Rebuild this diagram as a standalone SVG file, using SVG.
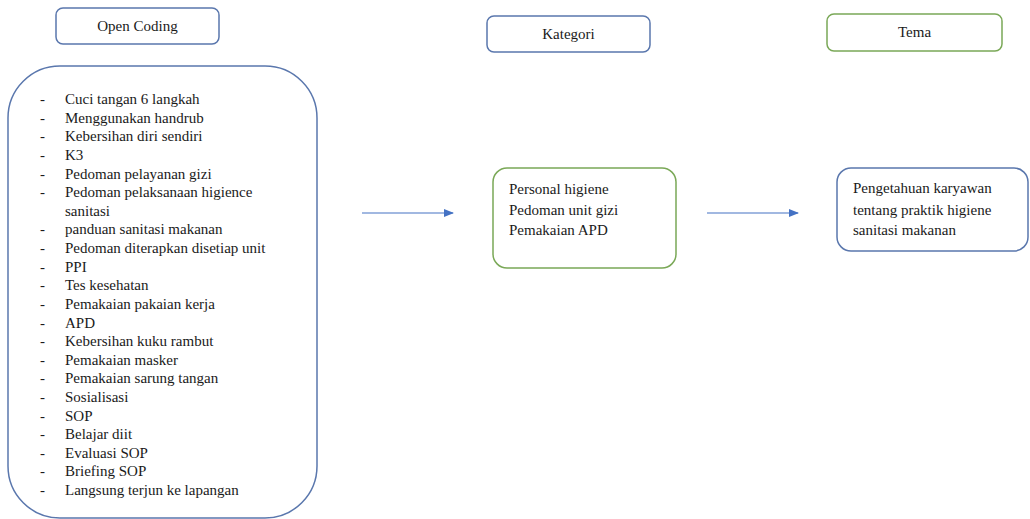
<svg xmlns="http://www.w3.org/2000/svg" width="1030" height="519" viewBox="0 0 1030 519">
<defs>
<marker id="ah" markerWidth="10" markerHeight="8" refX="9" refY="4" orient="auto" markerUnits="userSpaceOnUse">
<path d="M0,0 L10,4 L0,8 Z" fill="#4472c4"/>
</marker>
</defs>
<style>
.b{fill:#fff;stroke:#5a77ad;stroke-width:1.5}
.g{fill:#fff;stroke:#7aa857;stroke-width:1.5}
.c{stroke:#4472c4;stroke-width:1.2;fill:none}
</style>
<rect width="1030" height="519" fill="#fff"/>
<g id="open-coding-header">
<rect class="b" x="56" y="8" width="163" height="36" rx="7"/>
<text style="font-family:'Liberation Serif';font-size:15px" fill="#1a1a1a" x="137.5" y="31" text-anchor="middle">Open Coding</text>
</g>
<g id="open-coding-list" fill="#1a1a1a">
<rect class="b" x="8" y="66" width="309" height="452" rx="52"/>
<text style="font-family:'Liberation Serif';font-size:15px" x="40" y="104">-</text><text style="font-family:'Liberation Serif';font-size:15px" x="65" y="104">Cuci tangan 6 langkah</text>
<text style="font-family:'Liberation Serif';font-size:15px" x="40" y="123">-</text><text style="font-family:'Liberation Serif';font-size:15px" x="65" y="123">Menggunakan handrub</text>
<text style="font-family:'Liberation Serif';font-size:15px" x="40" y="141">-</text><text style="font-family:'Liberation Serif';font-size:15px" x="65" y="141">Kebersihan diri sendiri</text>
<text style="font-family:'Liberation Serif';font-size:15px" x="40" y="160">-</text><text style="font-family:'Liberation Serif';font-size:15px" x="65" y="160">K3</text>
<text style="font-family:'Liberation Serif';font-size:15px" x="40" y="179">-</text><text style="font-family:'Liberation Serif';font-size:15px" x="65" y="179">Pedoman pelayanan gizi</text>
<text style="font-family:'Liberation Serif';font-size:15px" x="40" y="197">-</text><text style="font-family:'Liberation Serif';font-size:15px" x="65" y="197">Pedoman pelaksanaan higience</text>
<text style="font-family:'Liberation Serif';font-size:15px" x="65" y="216">sanitasi</text>
<text style="font-family:'Liberation Serif';font-size:15px" x="40" y="234">-</text><text style="font-family:'Liberation Serif';font-size:15px" x="65" y="234">panduan sanitasi makanan</text>
<text style="font-family:'Liberation Serif';font-size:15px" x="40" y="253">-</text><text style="font-family:'Liberation Serif';font-size:15px" x="65" y="253">Pedoman diterapkan disetiap unit</text>
<text style="font-family:'Liberation Serif';font-size:15px" x="40" y="272">-</text><text style="font-family:'Liberation Serif';font-size:15px" x="65" y="272">PPI</text>
<text style="font-family:'Liberation Serif';font-size:15px" x="40" y="290">-</text><text style="font-family:'Liberation Serif';font-size:15px" x="65" y="290">Tes kesehatan</text>
<text style="font-family:'Liberation Serif';font-size:15px" x="40" y="309">-</text><text style="font-family:'Liberation Serif';font-size:15px" x="65" y="309">Pemakaian pakaian kerja</text>
<text style="font-family:'Liberation Serif';font-size:15px" x="40" y="328">-</text><text style="font-family:'Liberation Serif';font-size:15px" x="65" y="328">APD</text>
<text style="font-family:'Liberation Serif';font-size:15px" x="40" y="346">-</text><text style="font-family:'Liberation Serif';font-size:15px" x="65" y="346">Kebersihan kuku rambut</text>
<text style="font-family:'Liberation Serif';font-size:15px" x="40" y="365">-</text><text style="font-family:'Liberation Serif';font-size:15px" x="65" y="365">Pemakaian masker</text>
<text style="font-family:'Liberation Serif';font-size:15px" x="40" y="383">-</text><text style="font-family:'Liberation Serif';font-size:15px" x="65" y="383">Pemakaian sarung tangan</text>
<text style="font-family:'Liberation Serif';font-size:15px" x="40" y="402">-</text><text style="font-family:'Liberation Serif';font-size:15px" x="65" y="402">Sosialisasi</text>
<text style="font-family:'Liberation Serif';font-size:15px" x="40" y="421">-</text><text style="font-family:'Liberation Serif';font-size:15px" x="65" y="421">SOP</text>
<text style="font-family:'Liberation Serif';font-size:15px" x="40" y="439">-</text><text style="font-family:'Liberation Serif';font-size:15px" x="65" y="439">Belajar diit</text>
<text style="font-family:'Liberation Serif';font-size:15px" x="40" y="458">-</text><text style="font-family:'Liberation Serif';font-size:15px" x="65" y="458">Evaluasi SOP</text>
<text style="font-family:'Liberation Serif';font-size:15px" x="40" y="476">-</text><text style="font-family:'Liberation Serif';font-size:15px" x="65" y="476">Briefing SOP</text>
<text style="font-family:'Liberation Serif';font-size:15px" x="40" y="495">-</text><text style="font-family:'Liberation Serif';font-size:15px" x="65" y="495">Langsung terjun ke lapangan</text>
</g>
<g id="kategori-header" fill="#1a1a1a">
<rect class="b" x="487" y="16" width="163" height="36" rx="7"/>
<text style="font-family:'Liberation Serif';font-size:15px" x="568.5" y="39" text-anchor="middle">Kategori</text>
</g>
<g id="kategori-box" fill="#1a1a1a">
<rect class="g" x="493" y="168" width="183" height="100" rx="14"/>
<text style="font-family:'Liberation Serif';font-size:15px" x="509" y="194">Personal higiene</text>
<text style="font-family:'Liberation Serif';font-size:15px" x="509" y="215">Pedoman unit gizi</text>
<text style="font-family:'Liberation Serif';font-size:15px" x="509" y="235">Pemakaian APD</text>
</g>
<g id="tema-header" fill="#1a1a1a">
<rect class="g" x="827" y="14" width="175" height="37" rx="7"/>
<text style="font-family:'Liberation Serif';font-size:15px" x="914.5" y="37" text-anchor="middle">Tema</text>
</g>
<g id="tema-box" fill="#1a1a1a">
<rect class="b" x="837" y="168" width="191" height="83" rx="14"/>
<text style="font-family:'Liberation Serif';font-size:15px" x="853" y="193">Pengetahuan karyawan</text>
<text style="font-family:'Liberation Serif';font-size:15px" x="853" y="215">tentang praktik higiene</text>
<text style="font-family:'Liberation Serif';font-size:15px" x="853" y="235">sanitasi makanan</text>
</g>
<g id="connectors">
<line class="c" x1="362" y1="213" x2="453" y2="213" marker-end="url(#ah)"/>
<line class="c" x1="707" y1="213" x2="798" y2="213" marker-end="url(#ah)"/>
</g>
</svg>
